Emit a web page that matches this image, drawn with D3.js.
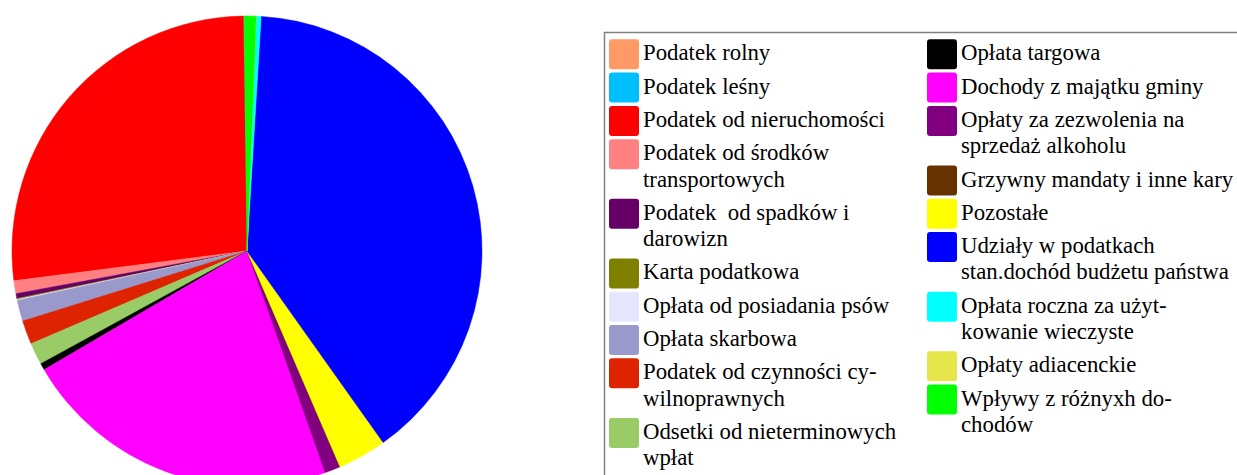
<!DOCTYPE html>
<html>
<head>
<meta charset="utf-8">
<script src="https://cdn.jsdelivr.net/npm/d3@7"></script>
<style>
  html, body { margin: 0; padding: 0; background: #fff; }
  svg { display: block; }
  text { font-family: "Liberation Serif", "Times New Roman", serif; white-space: pre; }
</style>
</head>
<body>
<svg id="chart" width="1237" height="475"></svg>
<script>
// Categories (legend order; "\n" marks the original line wrap)
const categories = [
  "Podatek rolny",
  "Podatek leśny",
  "Podatek od nieruchomości",
  "Podatek od środków\ntransportowych",
  "Podatek  od spadków i\ndarowizn",
  "Karta podatkowa",
  "Opłata od posiadania psów",
  "Opłata skarbowa",
  "Podatek od czynności cy-\nwilnoprawnych",
  "Odsetki od nieterminowych\nwpłat",
  "Opłata targowa",
  "Dochody z majątku gminy",
  "Opłaty za zezwolenia na\nsprzedaż alkoholu",
  "Grzywny mandaty i inne kary",
  "Pozostałe",
  "Udziały w podatkach\nstan.dochód budżetu państwa",
  "Opłata roczna za użyt-\nkowanie wieczyste",
  "Opłaty adiacenckie",
  "Wpływy z różnyxh do-\nchodów"
];
// Share of income, %
const values = [
  0.03, 0.03, 26.8, 0.89, 0.33, 0.07, 0.07, 1.44, 1.64, 1.51,
  0.46, 22.0, 1.06, 0.02, 3.36, 39.25, 0.33, 0.01, 0.81
];
const colors = [
  "#FF9966", "#00BFFF", "#FF0000", "#FF8080", "#660066", "#808000",
  "#E6E6FF", "#9999CC", "#DD2300", "#99CC66", "#000000", "#FF00FF",
  "#800080", "#663300", "#FFFF00", "#0000FF", "#00FFFF", "#E6E64C", "#00FF00"
];
const leftColumnCount = 10;

const svg = d3.select("#chart");

// ---- Pie ----
const cx = 247, cy = 251, R = 235;
const pie = d3.pie().sort(null).value(d => d.v)
  .startAngle(-0.012).endAngle(-0.012 - 2 * Math.PI);
const arc = d3.arc().innerRadius(0).outerRadius(R);
const data = categories.map((c, i) => ({ c, v: values[i], col: colors[i] }));

svg.append("g").attr("transform", `translate(${cx},${cy})`)
  .selectAll("path").data(pie(data)).join("path")
  .attr("d", arc)
  .attr("fill", d => d.data.col)
  .attr("stroke", d => d.data.col)
  .attr("stroke-width", 0.5);

// ---- Legend ----
const legend = svg.append("g");
legend.append("rect")
  .attr("x", 604.5).attr("y", 32.5)
  .attr("width", 700).attr("height", 500)
  .attr("fill", "#fff").attr("stroke", "#808080").attr("stroke-width", 1.5);

const colX = [609, 927];
const y0 = 39.3, itemH = 33.3, lineH = 26.3, sw = 30;
const yPos = [0, 0];
data.forEach((d, i) => {
  const col = i < leftColumnCount ? 0 : 1;
  const lines = d.c.split("\n");
  const y = y0 + yPos[col];
  yPos[col] += itemH + (lines.length - 1) * lineH;
  const g = legend.append("g");
  g.append("rect")
    .attr("x", colX[col]).attr("y", y)
    .attr("width", sw).attr("height", sw)
    .attr("rx", 3).attr("ry", 3)
    .attr("fill", d.col);
  const t = g.append("text")
    .attr("x", colX[col] + 34).attr("y", y + 21)
    .attr("font-size", 22.8).attr("fill", "#000");
  lines.forEach((ln, k) => {
    t.append("tspan").attr("x", colX[col] + 34).attr("dy", k === 0 ? 0 : lineH).text(ln);
  });
});
</script>
</body>
</html>
